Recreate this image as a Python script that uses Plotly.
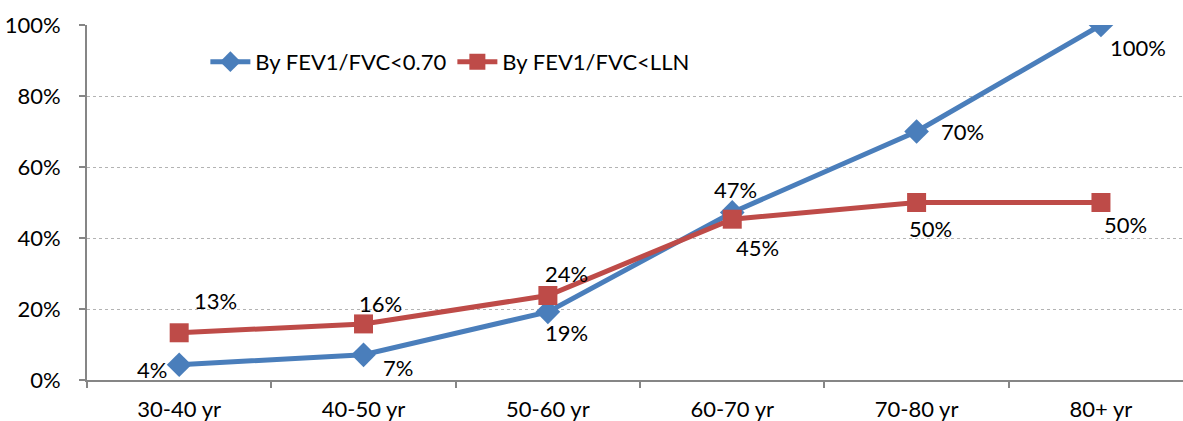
import plotly.graph_objects as go

categories = ["30-40 yr", "40-50 yr", "50-60 yr", "60-70 yr", "70-80 yr", "80+ yr"]
fev_070 = [4.3, 7.1, 19.2, 47.2, 70.0, 100.0]
fev_lln = [13.3, 15.8, 23.8, 45.3, 50.0, 50.0]
y_ticks = [0, 20, 40, 60, 80, 100]
y_tick_labels = ["0%", "20%", "40%", "60%", "80%", "100%"]

# label offsets (pixels, x right, y up) — style only
blue_off = [(-27, -5), (34, -13), (19, -21), (3, 23), (46, 0), (37, -22)]
red_off = [(36, 32), (17, 20), (19, 22), (25, -28), (14, -26), (25, -22)]

FONT = "Lato, 'Open Sans', sans-serif"
FS = 22
BLUE = "#4A7EBB"
RED = "#BE4B48"

fig = go.Figure()
fig.add_trace(go.Scatter(
    x=categories, y=fev_070, name="By FEV1/FVC<0.70", mode="lines+markers",
    line=dict(color=BLUE, width=5),
    marker=dict(symbol="diamond", size=19, color=BLUE),
))
fig.add_trace(go.Scatter(
    x=categories, y=fev_lln, name="By FEV1/FVC<LLN", mode="lines+markers",
    line=dict(color=RED, width=5),
    marker=dict(symbol="square", size=19, color=RED),
))

annotations = []
for vals, offs in ((fev_070, blue_off), (fev_lln, red_off)):
    for c, v, (dx, dy) in zip(categories, vals, offs):
        annotations.append(dict(
            x=c, y=v, xref="x", yref="y", text=f"{round(v)}%", showarrow=False,
            xshift=dx, yshift=dy, font=dict(family=FONT, size=FS, color="#000000"),
        ))

fig.update_layout(
    width=1183, height=421,
    margin=dict(l=87, r=0, t=25, b=41),
    paper_bgcolor="white", plot_bgcolor="white",
    font=dict(family=FONT, size=FS, color="#000000"),
    showlegend=True,
    legend=dict(
        orientation="h", x=0.108, y=0.896, xanchor="left", yanchor="middle",
        bgcolor="rgba(0,0,0,0)", font=dict(family=FONT, size=FS, color="#000000"),
        entrywidth=192, entrywidthmode="pixels", itemwidth=40,
    ),
    annotations=annotations,
)
fig.update_xaxes(
    type="category", categoryorder="array", categoryarray=categories,
    range=[-0.5, 5.445], showgrid=False, automargin=False,
    showline=True, linecolor="#868686", linewidth=2,
    ticks="outside", tickson="boundaries", ticklen=6, tickcolor="#868686", tickwidth=2,
    tickfont=dict(family=FONT, size=FS, color="#000000"), ticklabelstandoff=9,
)
fig.update_yaxes(
    range=[0, 100], tickvals=y_ticks, ticktext=y_tick_labels, automargin=False,
    showgrid=True, gridcolor="#B3B3B3", gridwidth=1, griddash="dot",
    showline=True, linecolor="#868686", linewidth=2,
    ticks="outside", ticklen=6, tickcolor="#868686", tickwidth=2,
    tickfont=dict(family=FONT, size=FS, color="#000000"), ticklabelstandoff=14,
    zeroline=False,
)

fig.write_html(
    "out.html",
    config={"displayModeBar": False},
    post_script="document.body.style.margin='0';document.body.style.overflow='hidden';",
)
